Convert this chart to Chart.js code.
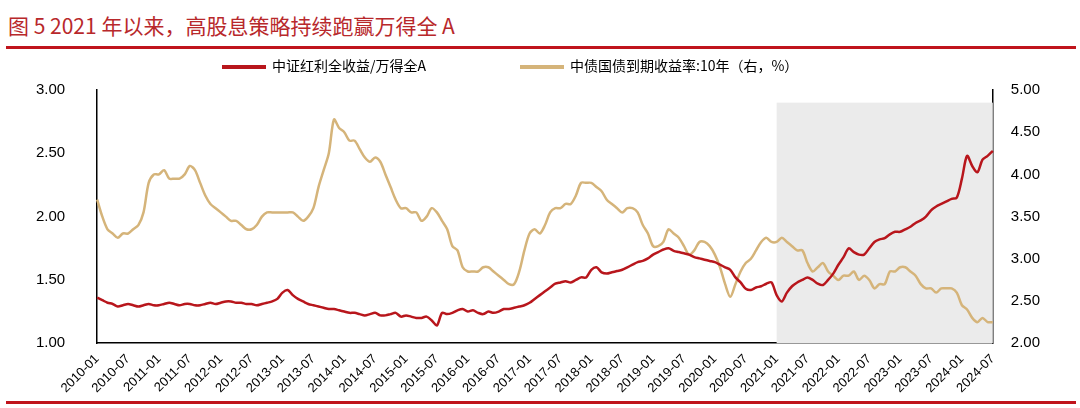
<!DOCTYPE html>
<html><head><meta charset="utf-8">
<script src="https://cdn.jsdelivr.net/npm/chart.js@4"></script>
<style>
body{margin:0;width:1080px;height:408px;background:#fff;position:relative;overflow:hidden;font-family:"Noto Sans CJK SC",sans-serif}
#title{position:absolute;left:8px;top:10px;font-size:21px;color:#b8282b}
.rule{position:absolute;left:6px;width:1070px;height:3px;background:#c0141c}
#wrap{position:absolute;left:0;top:57px;width:1080px;height:342px}
.lg{position:absolute;top:55px;font-size:14px;color:#000;z-index:2}
.lg i{display:inline-block;width:44px;height:4px;vertical-align:middle;margin-right:6px}
</style></head><body>
<div id="title">图 5 2021 年以来，高股息策略持续跑赢万得全 A</div>
<div class="rule" style="top:46px"></div>
<div class="rule" style="top:401px"></div>
<div id="wrap"><canvas id="c"></canvas></div>
<div class="lg" style="left:222px"><i style="background:#b8161c"></i>中证红利全收益/万得全A</div>
<div class="lg" style="left:520px"><i style="background:#d5b47a"></i>中债国债到期收益率:10年（右，%）</div>
<script>
const months = [];
for (let y = 2010; y <= 2024; y++) for (let m = 1; m <= 12; m++) {
  if (y === 2024 && m > 7) break;
  months.push(y + '-' + String(m).padStart(2, '0'));
}
const dividendRatio = [
1.36,1.34,1.32,1.31,1.29,1.30,1.31,1.30,1.29,1.30,1.31,1.30,
1.30,1.31,1.32,1.31,1.30,1.31,1.31,1.30,1.30,1.31,1.32,1.31,
1.32,1.33,1.33,1.32,1.32,1.31,1.31,1.30,1.31,1.32,1.33,1.35,
1.40,1.42,1.38,1.35,1.33,1.31,1.30,1.29,1.28,1.27,1.27,1.26,
1.25,1.24,1.24,1.23,1.22,1.23,1.24,1.22,1.22,1.23,1.24,1.21,
1.22,1.21,1.20,1.20,1.21,1.18,1.14,1.24,1.23,1.24,1.26,1.27,
1.25,1.26,1.24,1.23,1.25,1.24,1.25,1.27,1.27,1.28,1.29,1.30,
1.32,1.35,1.38,1.41,1.44,1.47,1.48,1.49,1.48,1.50,1.52,1.52,
1.58,1.60,1.56,1.55,1.56,1.57,1.58,1.60,1.62,1.64,1.65,1.67,
1.70,1.72,1.74,1.75,1.73,1.72,1.71,1.70,1.68,1.67,1.66,1.65,
1.64,1.62,1.60,1.58,1.52,1.48,1.43,1.42,1.44,1.45,1.47,1.48,
1.38,1.33,1.40,1.45,1.48,1.50,1.52,1.50,1.47,1.46,1.50,1.55,
1.62,1.68,1.75,1.72,1.70,1.70,1.75,1.80,1.82,1.83,1.86,1.88,
1.88,1.90,1.92,1.95,1.97,2.00,2.05,2.08,2.10,2.12,2.14,2.15,
2.30,2.48,2.40,2.35,2.45,2.48,2.52];
const bondYield10y = [
3.70,3.50,3.35,3.30,3.25,3.30,3.30,3.35,3.40,3.55,3.90,4.00,
4.00,4.05,3.95,3.95,3.95,4.00,4.10,4.05,3.90,3.75,3.65,3.60,
3.55,3.50,3.45,3.45,3.40,3.35,3.35,3.40,3.50,3.55,3.55,3.55,
3.55,3.55,3.55,3.50,3.45,3.50,3.60,3.85,4.05,4.25,4.65,4.55,
4.50,4.40,4.40,4.30,4.20,4.15,4.20,4.15,4.00,3.85,3.70,3.60,
3.60,3.55,3.55,3.45,3.50,3.60,3.55,3.45,3.35,3.15,3.10,2.90,
2.85,2.85,2.85,2.90,2.90,2.85,2.80,2.75,2.70,2.70,2.85,3.10,
3.30,3.35,3.30,3.40,3.55,3.60,3.60,3.65,3.65,3.75,3.90,3.90,
3.90,3.85,3.80,3.70,3.65,3.60,3.55,3.60,3.60,3.55,3.40,3.30,
3.15,3.15,3.20,3.35,3.30,3.25,3.15,3.05,3.10,3.20,3.20,3.15,
3.05,2.90,2.70,2.55,2.70,2.85,2.95,3.00,3.10,3.20,3.25,3.20,
3.20,3.25,3.20,3.15,3.10,3.10,2.95,2.85,2.90,2.95,2.85,2.80,
2.75,2.80,2.80,2.85,2.75,2.80,2.75,2.65,2.70,2.70,2.85,2.85,
2.90,2.90,2.85,2.80,2.70,2.65,2.65,2.60,2.65,2.65,2.65,2.60,
2.45,2.40,2.30,2.25,2.30,2.25,2.25];
const shadeFrom = '2021-01', shadeTop = 4.85;

// grey box behind the lines from 2021 on
const shade = {
  id: 'shade',
  beforeDatasetsDraw(chart) {
    const {ctx, chartArea, scales} = chart;
    const x0 = scales.x.getPixelForValue(months.indexOf(shadeFrom));
    const y0 = scales.y1.getPixelForValue(shadeTop);
    ctx.save();
    ctx.fillStyle = '#ebebeb';
    ctx.fillRect(x0, y0, chartArea.right - x0, chartArea.bottom - y0);
    ctx.restore();
  }
};

const tickFont = {family: 'Liberation Sans', size: 15};
new Chart(document.getElementById('c'), {
  type: 'line',
  data: {
    labels: months,
    datasets: [
      {label: '中证红利全收益/万得全A', data: dividendRatio, borderColor: '#b8161c', borderWidth: 2.5, pointRadius: 0, tension: 0.3, yAxisID: 'y'},
      {label: '中债国债到期收益率:10年（右，%）', data: bondYield10y, borderColor: '#d5b47a', borderWidth: 2.5, pointRadius: 0, tension: 0.3, yAxisID: 'y1'}
    ]
  },
  options: {
    responsive: true, maintainAspectRatio: false, animation: false,
    layout: {padding: {left: 12, right: 30, top: 0}},
    plugins: {legend: {display: false}, tooltip: {enabled: false}},
    scales: {
      x: {
        grid: {display: false, drawTicks: true, tickLength: 5},
        border: {color: '#000', width: 1.5},
        ticks: {autoSkip: false, maxRotation: 45, minRotation: 45, color: '#000', font: {family: 'Liberation Sans', size: 13},
          callback: (v, i) => i % 6 === 0 ? months[i] : null}
      },
      y: {
        position: 'left', min: 1, max: 3,
        grid: {display: false}, border: {color: '#000', width: 1.5},
        ticks: {stepSize: 0.5, color: '#000', font: tickFont, padding: 24, callback: v => v.toFixed(2)}
      },
      y1: {
        position: 'right', min: 2, max: 5,
        grid: {display: false}, border: {color: '#000', width: 1.5},
        ticks: {stepSize: 0.5, color: '#000', font: tickFont, padding: 10, callback: v => v.toFixed(2)}
      }
    }
  },
  plugins: [shade]
});
</script>
</body></html>
